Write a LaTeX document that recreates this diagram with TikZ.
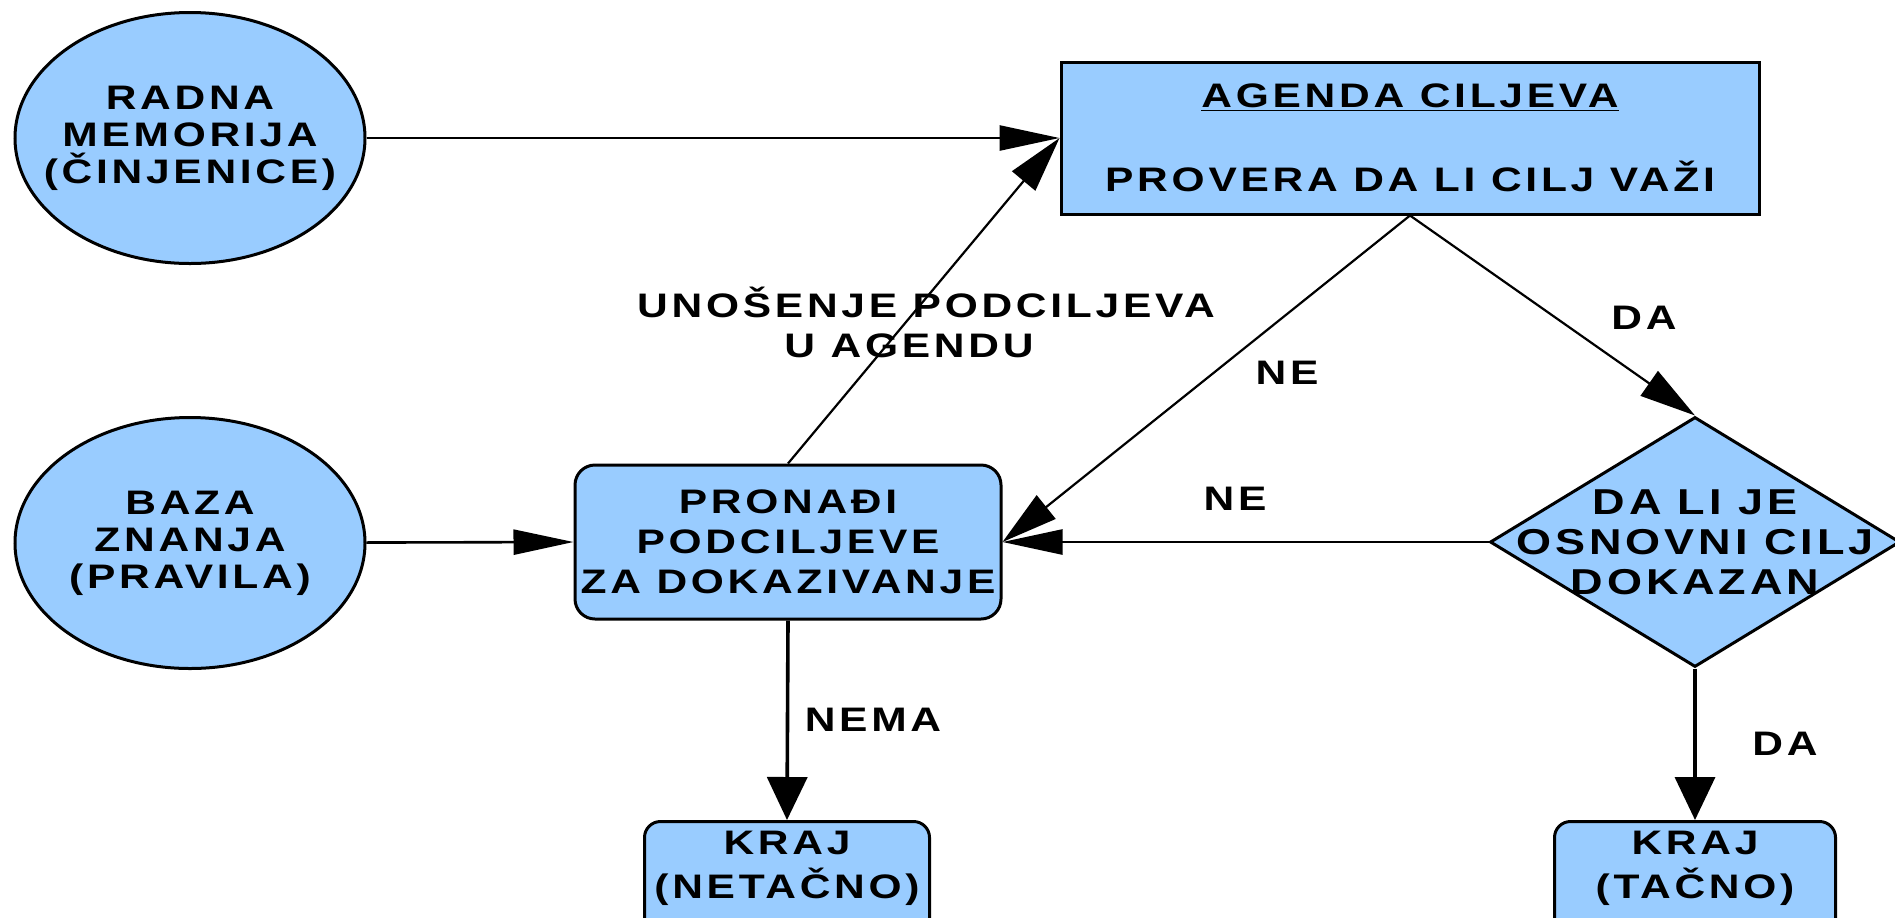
\documentclass[tikz,border=0pt]{standalone}
\usepackage{fontspec}
\setmainfont{Liberation Sans}[FakeStretch=1.25,LetterSpace=11]
\usetikzlibrary{shapes.geometric,arrows.meta}
\definecolor{boxblue}{RGB}{153,204,255}
\begin{document}
\begin{tikzpicture}[x=0.5pt,y=-0.5pt,
  every node/.style={font=\fontsize{17pt}{20pt}\selectfont\bfseries, text=black},
  shp/.style={draw=black, line width=1.5pt, fill=boxblue, inner sep=0pt},
  ell/.style={shp, ellipse, minimum width=175pt, minimum height=125.5pt},
  txt/.style={align=center, inner sep=0pt},
  conn/.style={line width=1.1pt},
  harr/.style={conn, line width=1.3pt, -{Triangle[length=30pt,width=12.5pt]}},
  varr/.style={conn, line width=1.8pt, -{Triangle[length=21.5pt,width=20pt]}},
  darr/.style={conn, -{Triangle[length=28pt,width=15pt]}},
  lab/.style={anchor=base, inner sep=0pt}
]
\useasboundingbox (0,0) rectangle (1895,917);
\clip (0,0) rectangle (1895,917);

% ellipses
\node[ell] (rm) at (190,138) {};
\node[txt, font=\fontsize{17pt}{18.5pt}\selectfont\bfseries] (rmt) at (rm) {RADNA\\MEMORIJA\\(ČINJENICE)};
\node[ell] (bz) at (190,543) {};
\node[txt, font=\fontsize{17pt}{18.5pt}\selectfont\bfseries] (bzt) at (bz) {BAZA\\ZNANJA\\(PRAVILA)};

% agenda
\node[shp, rectangle, minimum width=349pt, minimum height=76pt, align=center] (ag) at (1410,138)
  {\underline{AGENDA CILJEVA}\\[22pt]PROVERA DA LI CILJ VAŽI};

% find subgoals
\node[shp, rectangle, rounded corners=10pt, minimum width=213pt, minimum height=77pt, align=center] (pr) at (788,542)
  {PRONAĐI\\PODCILJEVE\\ZA DOKAZIVANJE};

% decision
\node[shp, diamond, minimum width=205pt, minimum height=125pt] (dia) at (1695,542) {};
\node[txt, font=\fontsize{18pt}{20pt}\selectfont\bfseries] (diat) at (dia) {DA LI JE\\OSNOVNI CILJ\\DOKAZAN};

% end boxes
\node[shp, rectangle, rounded corners=8pt, minimum width=142.5pt, minimum height=65pt, anchor=north] (kn) at (787,820) {};
\node[txt, font=\fontsize{17pt}{22pt}\selectfont\bfseries] (knt) at (787,868) {KRAJ\\(NETAČNO)};
\node[shp, rectangle, rounded corners=8pt, minimum width=140.5pt, minimum height=65pt, anchor=north] (kt) at (1695,820) {};
\node[txt, font=\fontsize{17pt}{22pt}\selectfont\bfseries] (ktt) at (1695,868) {KRAJ\\(TAČNO)};

% connectors
\draw[harr] (rm) -- (ag.west);
\draw[darr] (pr.north) -- (ag.west);
\draw[harr] (bz) -- (pr.west);
\draw[darr] (ag.south) -- (pr.east);
\draw[darr] (ag.south) -- (dia.north);
\draw[harr] (dia.west) -- (pr.east);
\draw[varr] (pr.south) -- (kn.north);
\draw[varr] (dia.south) -- (kt.north);

% labels
\node[lab] (l1) at (926,317) {UNOŠENJE PODCILJEVA};
\node[lab] (l2) at (909,357) {U AGENDU};
\node[lab] (l3) at (1287,384) {NE};
\node[lab] (l4) at (1644,329) {DA};
\node[lab] (l5) at (1235,510) {NE};
\node[lab] (l6) at (873,731) {NEMA};
\node[lab] (l7) at (1785,755) {DA};
\end{tikzpicture}
\end{document}
